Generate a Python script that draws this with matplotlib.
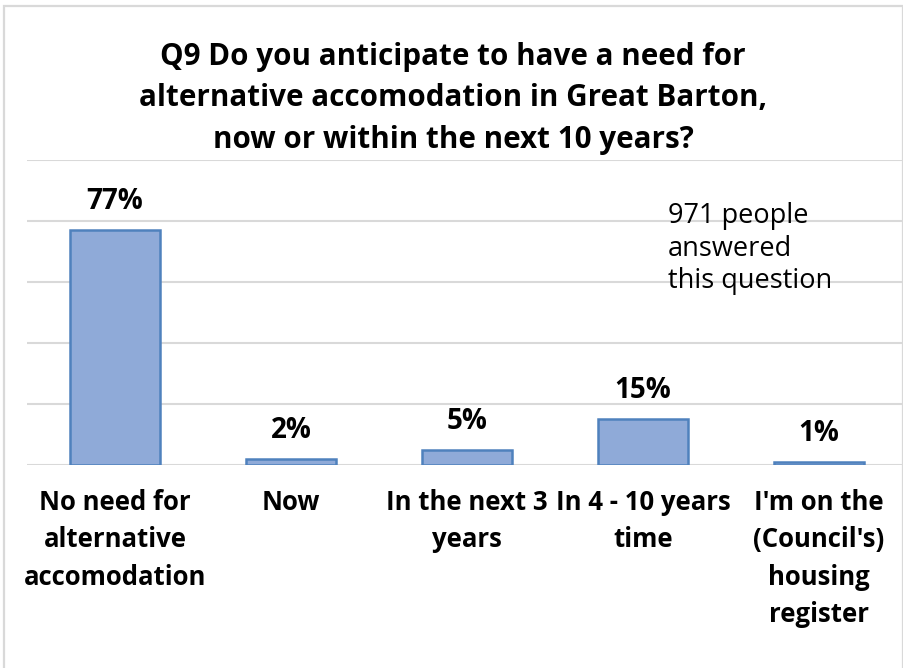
import matplotlib
matplotlib.use("Agg")
import matplotlib.pyplot as plt
from matplotlib.patches import Rectangle

categories = ["No need for\nalternative\naccomodation", "Now", "In the next 3\nyears",
              "In 4 - 10 years\ntime", "I'm on the\n(Council's)\nhousing\nregister"]
values = [77, 2, 5, 15, 1]
value_labels = ["77%", "2%", "5%", "15%", "1%"]
title = "Q9 Do you anticipate to have a need for\nalternative accomodation in Great Barton,\nnow or within the next 10 years?"
note = "971 people\nanswered\nthis question"

W, H = 904, 668
fig = plt.figure(figsize=(W / 100, H / 100), dpi=100)
fig.patch.set_facecolor("white")
FONT = "Open Sans"

# outer border
fig.add_artist(Rectangle((4 / W, -0.01), (903 - 4) / W, 1 - 6 / H + 0.01,
                         transform=fig.transFigure, fill=False,
                         edgecolor="#D9D9D9", linewidth=1.6))

ax = fig.add_axes([27 / W, 1 - 465 / H, (907 - 27) / W, (465 - 160) / H])
x = list(range(len(categories)))
bars = ax.bar(x, values, width=0.51, color="#8FAAD8", edgecolor="#4F81BD",
              linewidth=1.8, zorder=3)
ax.set_xlim(-0.5, len(categories) - 0.5)
ax.set_ylim(0, 100)
ax.set_yticks([0, 20, 40, 60, 80, 100])
ax.yaxis.grid(True, color="#D9D9D9", linewidth=1.5, zorder=0)
ax.set_axisbelow(True)
for s in ax.spines.values():
    s.set_visible(False)
ax.tick_params(axis="both", length=0)
ax.set_yticklabels([])
ax.set_xticks(x)
ax.set_xticklabels(categories, fontsize=18.5, fontweight="bold", family=FONT,
                   linespacing=1.5)
ax.tick_params(axis="x", pad=17)

for b, lab in zip(bars, value_labels):
    ax.annotate(lab, (b.get_x() + b.get_width() / 2, b.get_height()),
                xytext=(0, 14), textcoords="offset pixels", ha="center",
                va="bottom", fontsize=20, fontweight="bold", family=FONT)

fig.text(453 / W, 1 - 42 / H, title, ha="center", va="top", fontsize=21.3,
         fontweight="bold", family=FONT, linespacing=1.5)
fig.text(668 / W, 1 - 202 / H, note, ha="left", va="top", fontsize=19.5,
         family=FONT, linespacing=1.22)

fig.savefig("out.png", dpi=100)
